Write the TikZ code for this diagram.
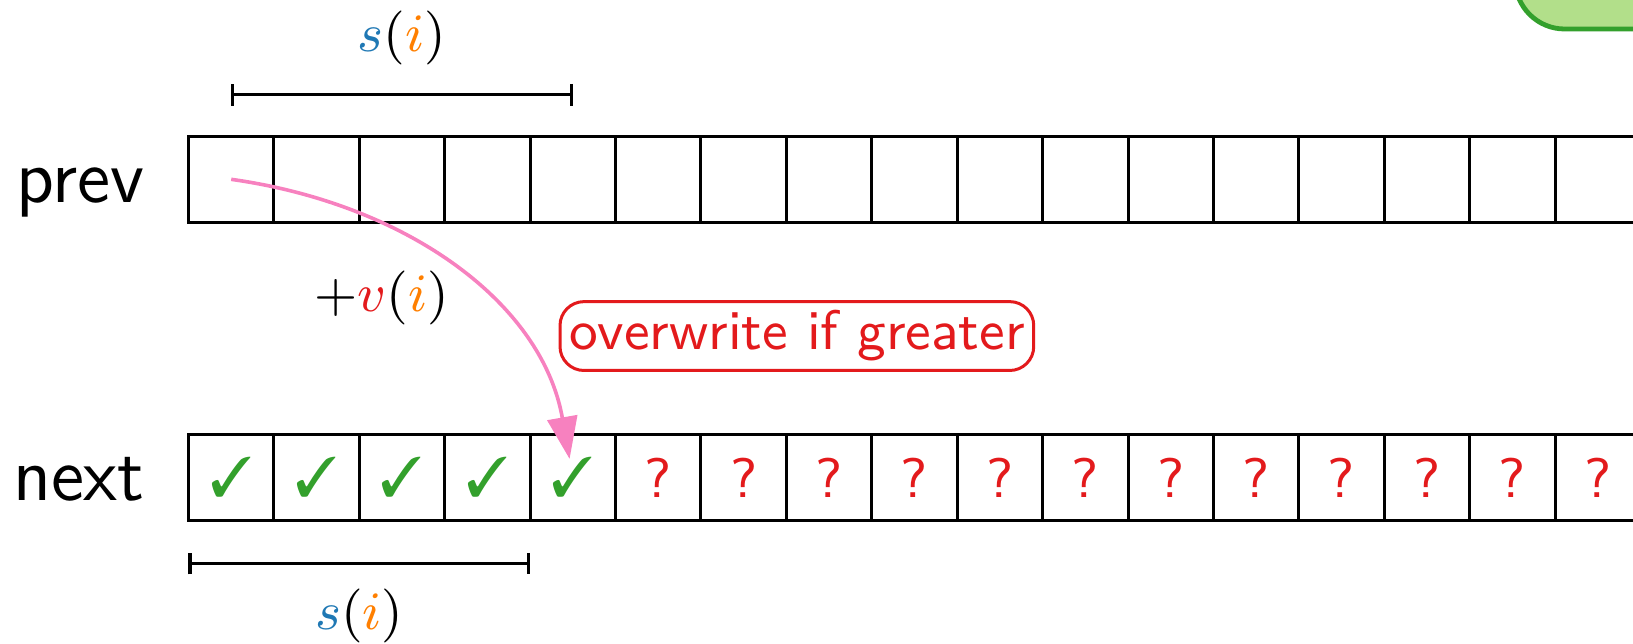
\documentclass[tikz,border=0pt]{standalone}
\usepackage{amssymb, amsmath}
\usepackage{pifont}
\usepackage{tikz}
\usetikzlibrary{arrows.meta,positioning}

\definecolor{pairedblue}{RGB}{31,120,180}
\definecolor{pairedorange}{RGB}{255,127,0}
\definecolor{pairedred}{RGB}{227,26,28}
\definecolor{pairedgreen}{RGB}{51,160,44}
\definecolor{pairedlightgreen}{RGB}{178,223,138}
\definecolor{setpink}{RGB}{247,129,191}

\newcommand{\sizeof}{$\textcolor{pairedblue}{s}(\textcolor{pairedorange}{i})$}
\newcommand{\valueof}{$+\textcolor{pairedred}{v}(\textcolor{pairedorange}{i})$}

\begin{document}
\begin{tikzpicture}[x=0.5cm,y=0.5cm,font=\fontsize{9.3}{11}\selectfont,
        cell/.style={draw=black,line width=0.5pt,minimum size=0.5cm,inner sep=0pt,outer sep=0pt},
        rowname/.style={font=\fontsize{12.6}{15}\selectfont\sffamily,inner sep=0pt},
        span/.style={line width=0.5pt,{Bar[width=3.6pt]}-{Bar[width=3.6pt]}},
        note/.style={draw=pairedred,text=pairedred,font=\fontsize{9.3}{11}\selectfont\sffamily,
          rounded corners=4pt,inner sep=1.5pt,line width=0.5pt}]
      \useasboundingbox (0,0) rectangle (19.12,7.53);
      \clip (0,0) rectangle (19.12,7.53);
      \draw [pairedgreen,fill=pairedlightgreen,line width=0.8pt,rounded corners=0.29cm]
        (17.74,7.19) rectangle (24,10);
      \foreach \i in {0,...,16}
        \node [cell] (p\i) at (2.707+\i,5.43) {};
      \foreach \i in {0,...,4}
        \node [cell,text=pairedgreen] (n\i) at (2.707+\i,1.94) {\ding{51}};
      \foreach \i in {5,...,16}
        \node [cell,text=pairedred,font=\fontsize{9.3}{11}\selectfont\sffamily] (n\i) at (2.707+\i,1.94) {?};
      \node [rowname,left=0.25cm of p0,anchor=base east,yshift=-0.138cm] (prevname) {prev};
      \node [rowname,left=0.25cm of n0,anchor=base east,yshift=-0.138cm] (nextname) {next};
      \draw [span] ([yshift=0.245cm]p0.north) -- ([yshift=0.245cm]p4.north)
        node [midway,above=1.3pt] (topsize) {\sizeof};
      \draw [span] ([yshift=-0.255cm]n0.south west) -- ([yshift=-0.255cm]n4.south west)
        node [midway,below=0.7pt] (bottomsize) {\sizeof};
      \draw [setpink,line width=0.6pt,-{Triangle[length=7pt,width=5pt]},shorten >=0.11cm]
        (p0.center) to [out=-8,in=100] (n4.center);
      \node (gain) at (4.47,4.04) {\valueof};
      \node [note] (greater) at (9.33,3.595) {overwrite if greater};
    \end{tikzpicture}
\end{document}
